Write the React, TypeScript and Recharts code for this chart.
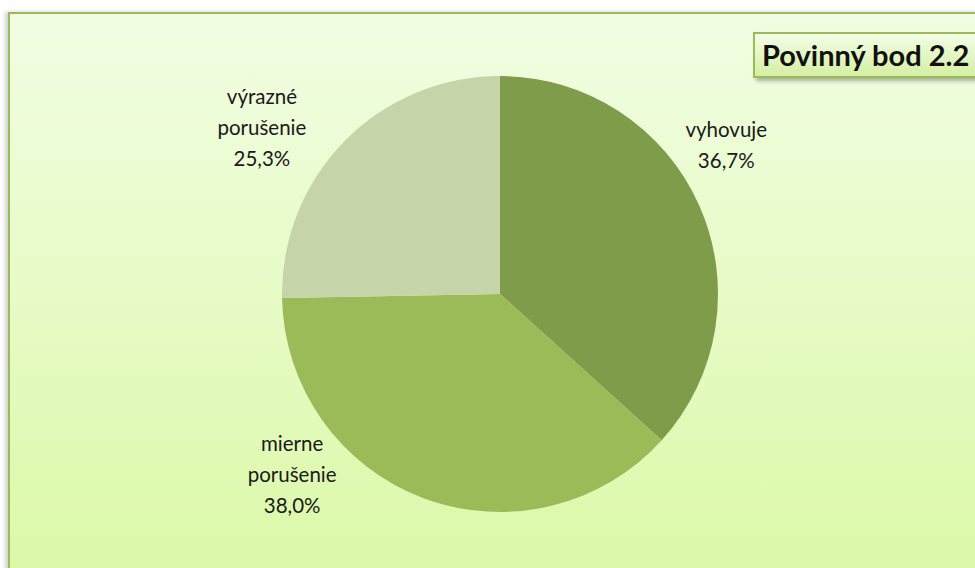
import { PieChart, Pie, Cell } from "recharts";

const categories = ["vyhovuje", "mierne porušenie", "výrazné porušenie"];
const shares = [36.7, 38.0, 25.3];
const colors = ["#7F9C4A", "#9BBB59", "#C5D5A9"];

// label placement (angle in degrees from centre, distance in px), Excel "best fit" style
const labelSpots = [
  { angle: 33.4, r: 271 },
  { angle: -139.1, r: 275 },
  { angle: 144.9, r: 291 },
];

const data = categories.map((name, i) => ({ name, value: shares[i], color: colors[i] }));

const fmt = (v: number) => v.toFixed(1).replace(".", ",") + "%";

function renderLabel(props: any) {
  const { cx, cy, index } = props;
  const d = data[index];
  const spot = labelSpots[index];
  const rad = (spot.angle * Math.PI) / 180;
  const x = cx + spot.r * Math.cos(rad);
  const y = cy - spot.r * Math.sin(rad);
  const words = d.name.split(" ");
  const lines = [...words, fmt(d.value)];
  const lh = 31;
  const top = y - ((lines.length - 1) * lh) / 2;
  return (
    <text
      x={x}
      y={top}
      textAnchor="middle"
      dominantBaseline="central"
      fill="#1a1a1a"
      fontSize={20.5}
      fontFamily="Lato, 'Open Sans', sans-serif"
    >
      {lines.map((l, i) => (
        <tspan key={i} x={x} y={top + i * lh}>
          {l}
        </tspan>
      ))}
    </text>
  );
}

export default function App() {
  return (
    <div style={{ position: "fixed", left: 0, top: 0, width: 975, height: 568, overflow: "hidden", background: "#fff" }}>
      <div
        style={{
          position: "absolute",
          left: 8,
          top: 12,
          width: 1000,
          height: 600,
          border: "2px solid #9BBB59",
          background: "linear-gradient(to bottom, #F1FDE2 0%, #E6FBC4 50%, #D9F8A3 100%)",
          boxShadow: "-3px 0 4px rgba(0,0,0,0.18)",
        }}
      />
      <div style={{ position: "absolute", left: 0, top: 0 }}>
        <PieChart width={975} height={568}>
          <Pie
            data={data}
            dataKey="value"
            nameKey="name"
            cx={495}
            cy={289}
            outerRadius={218}
            startAngle={90}
            endAngle={-270}
            stroke="none"
            label={renderLabel}
            labelLine={false}
            isAnimationActive={false}
          >
            {data.map((d, i) => (
              <Cell key={i} fill={d.color} />
            ))}
          </Pie>
        </PieChart>
      </div>
      <div
        style={{
          position: "absolute",
          left: 753,
          top: 32,
          width: 240,
          height: 42,
          border: "2px solid #9BBB59",
          background: "linear-gradient(to bottom, #F3FDE6 0%, #D5EFA4 100%)",
          boxShadow: "3px 3px 4px rgba(0,0,0,0.3)",
          fontFamily: "Lato, 'Open Sans', sans-serif",
          fontWeight: 700,
          fontSize: 29,
          lineHeight: "42px",
          paddingLeft: 7,
          color: "#111",
          whiteSpace: "nowrap",
        }}
      >
        Povinný bod 2.2
      </div>
    </div>
  );
}
